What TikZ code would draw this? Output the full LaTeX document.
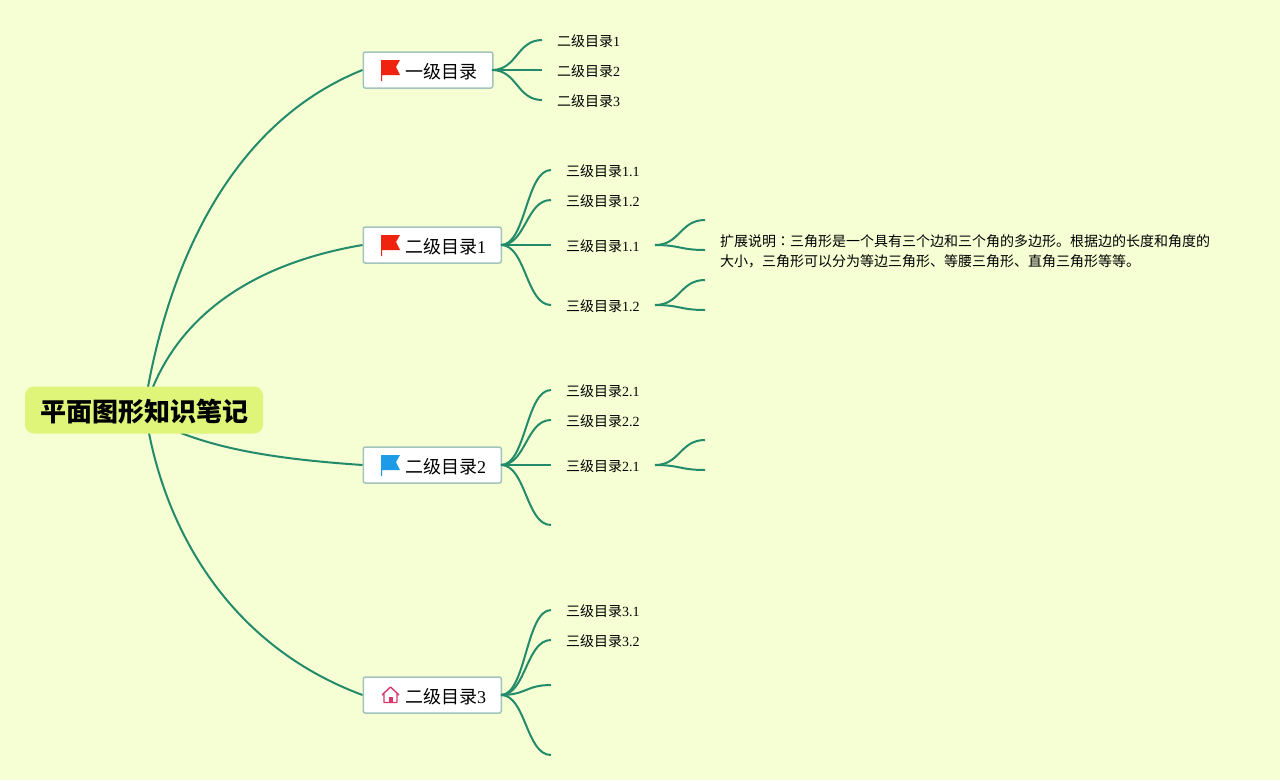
\documentclass[tikz,border=0pt]{standalone}
\usepackage{fontspec}
\setmainfont{Liberation Serif}
\newfontfamily\cjk{Noto Sans CJK SC}
\newfontfamily\cjktc{Noto Sans CJK TC}
\definecolor{bgc}{HTML}{F6FED4}
\definecolor{linec}{HTML}{238B6A}
\definecolor{rootc}{HTML}{DFF57A}
\definecolor{boxb}{HTML}{A3C4BC}
\definecolor{redf}{HTML}{F0230F}
\definecolor{bluef}{HTML}{1D9BE6}
\definecolor{pinkh}{HTML}{D8386A}
\begin{document}
\begin{tikzpicture}[x=1pt,y=-1pt,
 conn/.style={draw=linec,line width=2pt},
 topbox/.style={draw=boxb,fill=white,line width=1.5pt,rounded corners=2pt,minimum height=36pt,anchor=west,inner sep=0pt},
 toplab/.style={font=\fontsize{18}{18}\selectfont,anchor=base west,inner sep=0pt},
 leaf/.style={font=\fontsize{14}{14}\selectfont,anchor=base west,inner sep=0pt},
 rootbox/.style={fill=rootc,rounded corners=9pt,minimum width=238pt,minimum height=47pt,inner sep=0pt}]
\useasboundingbox (0,0) rectangle (1280,780);
\fill[bgc] (0,0) rectangle (1280,780);
\coordinate (c1) at (148,387);
\coordinate (c2) at (153,387);
\coordinate (c3) at (181,433);
\coordinate (c4) at (149,433);
\node[topbox,minimum width=129.5pt] (t1) at (362.5,70) {};
\node[topbox,minimum width=138pt] (t2) at (362.5,245) {};
\node[topbox,minimum width=138pt] (t3) at (362.5,465) {};
\node[topbox,minimum width=138pt] (t4) at (362.5,695) {};
\draw[conn] (c1) .. controls (172,258) and (233,122) .. (t1.west);
\draw[conn] (c2) .. controls (186,308) and (262,262) .. (t2.west);
\draw[conn] (c3) .. controls (230,452) and (290,460) .. (t3.west);
\draw[conn] (c4) .. controls (168,530) and (228,645) .. (t4.west);
\node[rootbox] (root) at (144,410) {};
\node[font=\cjk\bfseries\fontsize{26}{26}\selectfont] (rootl) at (144,412) {平面图形知识笔记};
\node[toplab] (l1) at (405,78) {{\cjk 一级目录}};
\node[toplab] (l2) at (405,253) {{\cjk 二级目录}1};
\node[toplab] (l3) at (405,473) {{\cjk 二级目录}2};
\node[toplab] (l4) at (405,703) {{\cjk 二级目录}3};
\foreach \yy/\cc in {70/redf,245/redf,465/bluef}{
 \fill[\cc] (381,\yy-10) -- (400,\yy-10) -- (396,\yy-3) -- (400,\yy+5) -- (382,\yy+5) -- (382,\yy+11) -- (381,\yy+11) -- cycle;
}
\draw[pinkh,line width=1.4pt,line join=round] (382,695) -- (390.5,687) -- (399,695) (384,693.5) -- (384,702.5) -- (397,702.5) -- (397,693.5);
\fill[pinkh] (388.5,702.5) rectangle (392.5,697);
\foreach \n/\x/\y/\t/\d in {a1/557/46/二级目录/1,a2/557/76/二级目录/2,a3/557/106/二级目录/3,
 b1/566/176/三级目录/1.1,b2/566/206/三级目录/1.2,b3/566/251/三级目录/1.1,b4/566/311/三级目录/1.2,
 d1/566/396/三级目录/2.1,d2/566/426/三级目录/2.2,d3/566/471/三级目录/2.1,
 e1/566/616/三级目录/3.1,e2/566/646/三级目录/3.2}{
 \node[leaf] (\n) at (\x,\y) {{\cjk \t}\d};
}
\node[leaf] (n1) at (720,246) {{\cjk 扩展说明{\cjktc ：}三角形是一个具有三个边和三个角的多边形。根据边的长度和角度的}};
\node[leaf] (n2) at (720,266) {{\cjk 大小，三角形可以分为等边三角形、等腰三角形、直角三角形等等。}};
\foreach \x/\y/\ex/\ey in {492/70/542/40,492/70/542/70,492/70/542/100,
 501/245/551/170,501/245/551/200,501/245/551/245,501/245/551/305,
 501/465/551/390,501/465/551/420,501/465/551/465,501/465/551/525,
 501/695/551/610,501/695/551/640,501/695/551/685,501/695/551/755,
 655/245/705/220,655/245/705/250,655/305/705/280,655/305/705/310,655/465/705/440,655/465/705/470}{
 \draw[conn] (\x,\y) .. controls (\x+25,\y) and (\ex-25,\ey) .. (\ex,\ey);
}
\end{tikzpicture}
\end{document}
